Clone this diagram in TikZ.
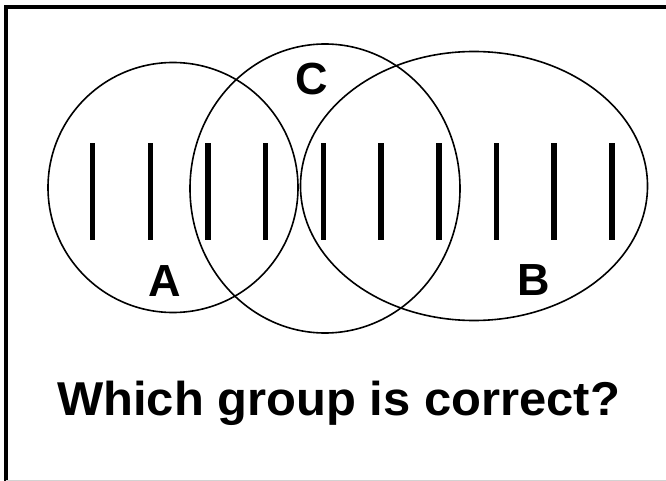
\documentclass[tikz,border=0pt]{standalone}
\usepackage{fontspec}
\setmainfont{Liberation Sans}
\begin{document}
\begin{tikzpicture}[x=1pt,y=-1pt,
  ring/.style={draw=black,line width=1.6pt},
  bar/.style={line width=5.5pt},
  lbl/.style={font=\fontsize{45}{50}\selectfont\bfseries,inner sep=0pt,anchor=center}]
\useasboundingbox (0,0) rectangle (666,481);
% frame
\draw[line width=3.5pt] (670,7) -- (6,7) -- (6,485);
\draw[gray!35,line width=1pt] (6,480.5) -- (670,480.5);
% sets
\draw[ring] (173,187.5) ellipse [x radius=125, y radius=125];
\draw[ring] (325,188.5) ellipse [x radius=135, y radius=144.5];
\draw[ring] (474,186) ellipse [x radius=173.5, y radius=134.5];
% bars
\foreach \i in {0,...,9}{
  \draw[bar] ({92.6+57.7*\i},143.5) -- ({92.6+57.7*\i},239.5);
}
% labels
\node[lbl] (A) at (165,281) {A};
\node[lbl] (B) at (534,280) {B};
\node[lbl] (C) at (312,79) {C};
\node[font=\fontsize{47.5}{52}\selectfont\bfseries,inner sep=0pt,anchor=base west,xscale=1.03] (Q) at (57,415) {Which group is correct?};
\end{tikzpicture}
\end{document}
